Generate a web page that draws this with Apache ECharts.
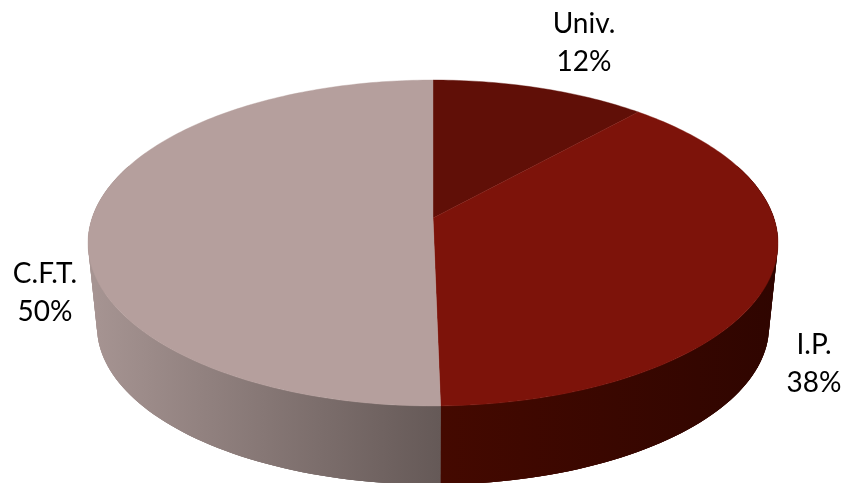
<!DOCTYPE html>
<html>
<head>
<meta charset="utf-8">
<style>
  html, body { margin: 0; padding: 0; background: #fff; }
  #chart { width: 846px; height: 483px; }
</style>
<script src="https://cdn.jsdelivr.net/npm/echarts@6/dist/echarts.min.js"></script>
</head>
<body>
<div id="chart"></div>
<script>
  // values, they round to the printed 12 / 38 / 50
  var categories = ['Univ.', 'I.P.', 'C.F.T.']
  var shares = [11.7, 38, 50.3]

  var topColors = ['#600f07', '#7d130a', '#b59f9d']
  // side wall colour at the left and right end of the wall
  var sideColors = [['#3c0700', '#3c0700'], ['#440900', '#2f0500'], ['#a79593', '#655957']]
  var labelPos = [[584, 43], [814, 364], [45, 293]]

  // perspective disc, the hub sits above the middle of the ellipse
  var cx = 433
  var hubY = 218
  var persp = 0.1534
  var spanX = 340.9
  var spanY = -125.7
  var wallDrop = 83.5
  var wallShrink = 0.974
  var wallShrinkY = 0.97
  var midY = 243

  var total = shares.reduce(function (a, b) { return a + b }, 0)

  function startAngle(i) {
    var sum = 0
    for (var j = 0; j < i; j++) sum += shares[j]
    return sum / total * 360
  }

  function rim(deg) {
    var t = deg * Math.PI / 180
    var d = 1 + persp * Math.cos(t)
    return [cx + spanX * Math.sin(t) / d, (hubY + spanY * Math.cos(t)) / d]
  }

  function lowerRim(deg) {
    var p = rim(deg)
    return [cx + (p[0] - cx) * wallShrink, midY + wallDrop + (p[1] - midY) * wallShrinkY]
  }

  function renderWall(params) {
    var i = params.dataIndex
    var from = Math.max(startAngle(i), 70)
    var to = Math.min(startAngle(i) + shares[i] / total * 360, 290)
    var kids = []
    if (to <= from) return { type: 'group', children: kids }
    var steps = Math.ceil((to - from) / 1.5)
    var xs = []
    var upper = []
    var lower = []
    for (var k = 0; k <= steps; k++) {
      var deg = from + (to - from) * k / steps
      xs.push(rim(deg)[0])
      upper.push(rim(deg))
      lower.unshift(lowerRim(deg))
    }
    // one gradient in page coordinates shared by every piece of the wall
    var grad = {
      type: 'linear',
      global: true,
      x: Math.min.apply(null, xs),
      y: 0,
      x2: Math.max.apply(null, xs),
      y2: 0,
      colorStops: [
        { offset: 0, color: sideColors[i][0] },
        { offset: 1, color: sideColors[i][1] }
      ]
    }
    // overlapping strips give the straight silhouette at the widest points
    for (var n = 0; n < steps; n++) {
      var end = Math.min(n + 2, steps)
      kids.push({
        type: 'polygon',
        shape: { points: [upper[n], upper[end], lower[steps - end], lower[steps - n]] },
        style: { fill: grad }
      })
    }
    kids.push({
      type: 'polygon',
      shape: { points: upper.concat(lower) },
      style: { fill: grad }
    })
    return { type: 'group', children: kids }
  }

  function renderTop(params) {
    var i = params.dataIndex
    var from = startAngle(i)
    var to = from + shares[i] / total * 360
    var pts = [[cx, hubY]]
    var steps = Math.ceil((to - from) / 1)
    for (var k = 0; k <= steps; k++) pts.push(rim(from + (to - from) * k / steps))
    return {
      type: 'group',
      children: [{
        type: 'polygon',
        shape: { points: pts },
        style: { fill: topColors[i], stroke: topColors[i], lineWidth: 0.4 }
      }, {
        type: 'text',
        style: {
          x: labelPos[i][0],
          y: labelPos[i][1],
          text: categories[i] + '\n' + Math.round(shares[i]) + '%',
          fill: '#000',
          font: '28px Lato',
          lineHeight: 38,
          align: 'center',
          verticalAlign: 'middle'
        }
      }]
    }
  }

  var chart = echarts.init(document.getElementById('chart'))
  chart.setOption({
    animation: false,
    series: [
      { type: 'custom', coordinateSystem: 'none', silent: true, clip: false, data: shares, renderItem: renderWall },
      { type: 'custom', coordinateSystem: 'none', silent: true, clip: false, data: shares, renderItem: renderTop }
    ]
  })
</script>
</body>
</html>
